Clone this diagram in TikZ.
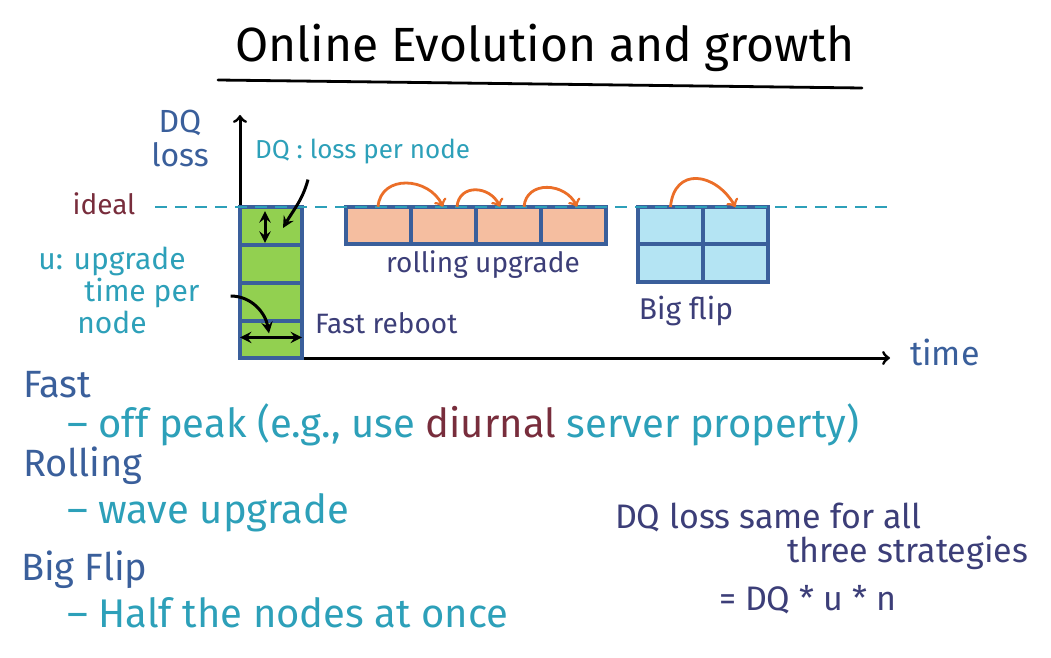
\documentclass[tikz,border=0pt]{standalone}
\usepackage{fontspec}
\setmainfont{Fira Sans}
\definecolor{inkblue}{RGB}{58,95,155}
\definecolor{inkteal}{RGB}{45,160,185}
\definecolor{inkmaroon}{RGB}{120,45,60}
\definecolor{inknavy}{RGB}{60,62,120}
\definecolor{inkorange}{RGB}{235,110,40}
\definecolor{cellgreen}{RGB}{146,208,80}
\definecolor{cellsalmon}{RGB}{245,190,160}
\definecolor{cellcyan}{RGB}{180,228,243}
\usepackage{tikz}
\usetikzlibrary{shapes,arrows,positioning,calc}

\tikzset{
  cell/.style={draw=inkblue,line width=2pt,inner sep=0pt,outer sep=0pt,
               minimum width=32.5pt,minimum height=18.75pt},
  greencell/.style={cell,fill=cellgreen,minimum width=31pt,minimum height=18.9pt},
  rollcell/.style={cell,fill=cellsalmon},
  flipcell/.style={cell,fill=cellcyan},
  hop/.style={draw=inkorange,line width=1.4pt,->},
  pointer/.style={draw=black,line width=1.5pt,>=stealth},
  heading/.style={text=inkblue,font=\fontsize{19}{22}\selectfont,anchor=west},
  note/.style={text=inkteal,font=\fontsize{20}{22}\selectfont,anchor=west},
  remark/.style={text=inknavy,font=\fontsize{17}{19}\selectfont,anchor=west},
  tag/.style={text=inknavy,font=\fontsize{14}{16}\selectfont},
}

\begin{document}
\begin{tikzpicture}[x=0.5pt,y=-0.5pt]
  \useasboundingbox (0,0) rectangle (1051,658);

  % title
  \node (title) at (545,48) {\fontsize{24}{28}\selectfont Online Evolution and growth};
  \draw[line width=1.4pt,line cap=round] (218,80) -- (862,88);

  % axes
  \coordinate (origin) at (240,358);
  \coordinate (ytop) at (240,115);
  \coordinate (xend) at (890,358);
  \draw[line width=1.5pt,->] (origin) -- (ytop);
  \draw[line width=1.5pt,->] (origin) -- (xend);
  \node[text=inkblue,font=\fontsize{16}{17}\selectfont,align=center] (dqaxis) at (180,138) {DQ\\loss};
  \node[text=inkblue,font=\fontsize{17}{20}\selectfont,anchor=west] (time) at (903,352) {time};
  \node[text=inkmaroon,font=\fontsize{14}{16}\selectfont] (ideal) at (104,204) {ideal};

  % fast reboot column
  \node[greencell] (g1) at (271,226) {};
  \node[greencell,below=0pt of g1] (g2) {};
  \node[greencell,below=0pt of g2] (g3) {};
  \node[greencell,below=0pt of g3] (g4) {};
  \node[tag,anchor=west] (fastreboot) at (308,323) {Fast reboot};

  % rolling upgrade
  \node[rollcell] (r1) at (378,225.5) {};
  \node[rollcell,right=0pt of r1] (r2) {};
  \node[rollcell,right=0pt of r2] (r3) {};
  \node[rollcell,right=0pt of r3] (r4) {};
  \node[tag] (rolllabel) at (483,265) {rolling upgrade};

  % big flip
  \node[flipcell] (b1) at (670.5,225.75) {};
  \node[flipcell,right=0pt of b1] (b2) {};
  \node[flipcell,below=0pt of b1] (b3) {};
  \node[flipcell,right=0pt of b3] (b4) {};
  \node[tag,font=\fontsize{15}{17}\selectfont] (fliplabel) at (686,311) {Big flip};

  % ideal line
  \coordinate (dashstart) at (155,207);
  \coordinate (dashend) at (890,207);
  \draw[inkteal,line width=1.3pt,dash pattern=on 6pt off 4pt] (dashstart) -- (dashend);

  % hops
  \draw[hop] (r1.north) to[out=85,in=115,looseness=1.3] (r2.north);
  \draw[hop] ([xshift=7pt]r2.north) to[out=85,in=115,looseness=1.4] ([xshift=-4pt]r3.north);
  \draw[hop] ([xshift=8pt]r3.north) to[out=85,in=115,looseness=1.3] ([xshift=2pt]r4.north);
  \draw[hop] (b1.north) to[out=85,in=120,looseness=1.6] (b2.north);

  % per node annotations
  \node[text=inkteal,font=\fontsize{13}{15}\selectfont,anchor=west] (dqlabel) at (248,152) {DQ : loss per node};
  \node[text=inkteal,font=\fontsize{15}{16}\selectfont,align=center] (ulabel) at (112,290) {u: upgrade\\\hspace*{30pt}time per\\node};
  \draw[pointer,<->] ([xshift=-3pt,yshift=-2pt]g1.north) -- ([xshift=-3pt,yshift=1pt]g1.south);
  \draw[pointer,->] ([xshift=30pt,yshift=-4pt]dqlabel.south west) to[out=-105,in=60] ([xshift=6pt,yshift=-1pt]g1.center);
  \draw[pointer,<->] ([yshift=1pt]g4.west) -- ([yshift=1pt]g4.east);
  \draw[pointer,->] ([xshift=12pt,yshift=-3pt]ulabel.east) to[out=0,in=100] ([xshift=-1pt,yshift=3pt]g4.center);

  % strategies
  \node[heading] (fast) at (16,385) {Fast};
  \node[note] (fastnote) at (60,425) {-- off peak (e.g., use \textcolor{inkmaroon}{diurnal} server property)};
  \node[heading] (rolling) at (16,466) {Rolling};
  \node[note] (rollnote) at (60,513) {-- wave upgrade};
  \node[heading] (bigflip) at (14,570) {Big Flip};
  \node[note] (flipnote) at (60,613) {-- Half the nodes at once};

  % summary
  \node[remark] (same) at (608,517) {DQ loss same for all};
  \node[remark] (three) at (780,553) {three strategies};
  \node[remark] (formula) at (712,600) {= DQ * u * n};
\end{tikzpicture}
\end{document}
